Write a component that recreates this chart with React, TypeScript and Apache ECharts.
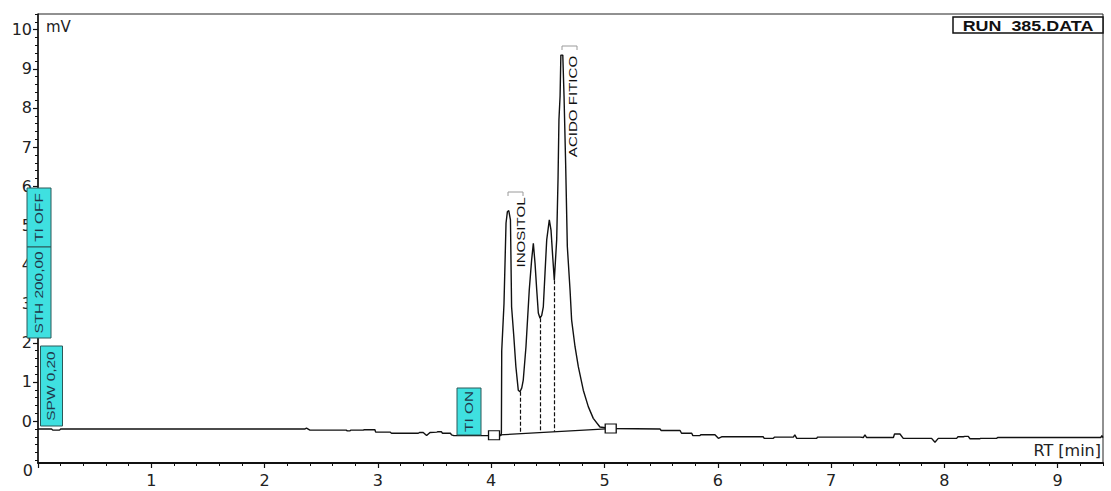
import { useEffect, useRef } from 'react';
import * as echarts from 'echarts';

// Detector trace, split in three stretches: [retention time (min), signal (mV)]
const leadBaseline: [number, number][] = [
  [0.0, -0.2], [0.12, -0.2], [0.13, -0.23], [0.19, -0.23], [0.2, -0.2],
  [2.357, -0.2], [2.37, -0.18], [2.4, -0.23], [2.72, -0.23], [2.73, -0.25],
  [2.754, -0.25], [2.76, -0.23], [2.87, -0.23], [2.88, -0.22], [2.974, -0.22],
  [2.98, -0.28], [3.107, -0.28], [3.12, -0.31], [3.357, -0.31], [3.37, -0.29],
  [3.4, -0.29], [3.43, -0.37], [3.46, -0.29], [3.52, -0.28], [3.53, -0.27],
  [3.56, -0.27], [3.57, -0.31], [3.64, -0.31], [3.65, -0.35], [3.67, -0.37],
  [4.085, -0.37],
];

const peakCluster: [number, number][] = [
  [4.09, -0.3], [4.093, 1.8], [4.113, 3.0], [4.131, 5.06], [4.143, 5.35],
  [4.155, 5.38], [4.17, 5.14], [4.18, 2.92], [4.2, 2.15], [4.218, 1.39],
  [4.239, 0.79], [4.254, 0.75], [4.27, 0.85], [4.283, 1.05], [4.307, 1.9],
  [4.336, 3.35], [4.357, 4.12], [4.372, 4.54], [4.387, 4.03], [4.402, 3.35],
  [4.416, 2.76], [4.431, 2.63], [4.446, 2.7], [4.46, 2.92], [4.475, 3.78],
  [4.49, 4.63], [4.513, 5.14], [4.528, 4.88], [4.543, 4.2], [4.557, 3.6],
  [4.578, 4.63], [4.59, 6.2], [4.598, 7.7], [4.608, 8.3], [4.615, 9.35],
  [4.632, 9.35], [4.643, 8.3], [4.657, 6.6], [4.672, 4.46], [4.696, 3.35],
  [4.71, 2.58], [4.74, 1.9], [4.769, 1.39], [4.813, 0.79], [4.857, 0.37],
  [4.901, 0.07], [4.96, -0.15], [5.055, -0.19],
];

const tailBaseline: [number, number][] = [
  [5.49, -0.2], [5.5, -0.24], [5.667, -0.24], [5.68, -0.31], [5.77, -0.31],
  [5.78, -0.37], [5.843, -0.37], [5.85, -0.35], [5.975, -0.35], [6.005, -0.44],
  [6.034, -0.4], [6.4, -0.4], [6.41, -0.44], [6.49, -0.44], [6.5, -0.41],
  [6.667, -0.41], [6.68, -0.35], [6.697, -0.44], [6.873, -0.44], [6.88, -0.41],
  [7.255, -0.41], [7.284, -0.42], [7.299, -0.35], [7.314, -0.42], [7.55, -0.42],
  [7.56, -0.33], [7.608, -0.33], [7.637, -0.44], [7.887, -0.44], [7.917, -0.54],
  [7.946, -0.44], [8.108, -0.44], [8.12, -0.4], [8.167, -0.4], [8.18, -0.39],
  [8.211, -0.39], [8.226, -0.45], [8.314, -0.45], [8.32, -0.44], [8.461, -0.44],
  [8.47, -0.42], [9.38, -0.42], [9.39, -0.37], [9.4, -0.42],
];

// Integration start / end points of the peak group
const integrationMarks: [number, number][] = [[4.025, -0.36], [5.055, -0.19]];

// Valleys where the peaks are split by perpendicular drops
const dropValleys: [number, number][] = [[4.254, 0.75], [4.431, 2.63], [4.557, 3.6]];

const xMajorTicks = [0, 1, 2, 3, 4, 5, 6, 7, 8, 9];
const xTickLabels = [1, 2, 3, 4, 5, 6, 7, 8, 9];
const yTickLabels = [0, 1, 2, 3, 4, 5, 6, 7, 8, 9, 10];

const X_MIN = 0;
const X_MAX = 9.4;
const Y_MIN = -1.07;
const Y_MAX = 10.4;

const axisFont = 'DejaVu Sans, sans-serif';
const noteFont = 'Liberation Sans, Arial, sans-serif';
const ink = '#111';
const TOP_Z = 100;

function steps(from: number, to: number, step: number): number[] {
  const out: number[] = [];
  const n = Math.round((to - from) / step);
  for (let i = 0; i <= n; i++) out.push(+(from + i * step).toFixed(4));
  return out;
}

function baselineAt(t: number): number {
  const [[t0, v0], [t1, v1]] = integrationMarks;
  return v0 + ((t - t0) * (v1 - v0)) / (t1 - t0);
}

function tagBox(x: number, y: number, w: number, h: number, label: string) {
  return [
    {
      type: 'rect',
      z: TOP_Z,
      shape: { x, y, width: w, height: h },
      style: { fill: '#3fe0e0', stroke: '#2c5858', lineWidth: 1 },
    },
    {
      type: 'text',
      z: TOP_Z + 1,
      x: x + w / 2,
      y: y + h / 2,
      rotation: Math.PI / 2,
      scaleX: 1.4,
      style: {
        text: label,
        fontSize: 11,
        fontFamily: noteFont,
        fill: '#20384a',
        align: 'center',
        verticalAlign: 'middle',
        textAlign: 'center',
        textVerticalAlign: 'middle',
      },
    },
  ];
}

function peakName(cx: number, cy: number, label: string) {
  return {
    type: 'text',
    z: TOP_Z,
    x: cx,
    y: cy,
    rotation: Math.PI / 2,
    scaleX: 1.37,
    style: {
      text: label,
      fontSize: 11,
      fontFamily: noteFont,
      fill: ink,
      align: 'center',
      verticalAlign: 'middle',
      textAlign: 'center',
      textVerticalAlign: 'middle',
    },
  };
}

function bracket(x0: number, x1: number, y: number) {
  return {
    type: 'polyline',
    z: TOP_Z,
    shape: { points: [[x0, y + 4], [x0, y], [x1, y], [x1, y + 4]] },
    style: { stroke: '#9a9a9a', lineWidth: 1, fill: 'none' },
  };
}

function plainText(x: number, y: number, text: string, size: number, align: string) {
  return {
    type: 'text',
    z: TOP_Z,
    x,
    y,
    style: {
      text,
      fontSize: size,
      fontFamily: axisFont,
      fill: '#222',
      align,
      verticalAlign: 'middle',
      textAlign: align,
      textVerticalAlign: 'middle',
    },
  };
}

export default function App() {
  const ref = useRef<HTMLDivElement>(null);

  useEffect(() => {
    if (!ref.current) return;
    const chart = echarts.init(ref.current, null, { renderer: 'svg' });
    const trace = [...leadBaseline, ...peakCluster, ...tailBaseline];

    chart.setOption({
      animation: false,
      backgroundColor: '#ffffff',
      grid: {
        left: 38,
        right: 8,
        top: 14,
        bottom: 28,
        show: true,
        borderColor: '#222',
        borderWidth: 1,
        backgroundColor: 'transparent',
      },
      xAxis: [
        {
          type: 'value',
          min: X_MIN,
          max: X_MAX,
          position: 'bottom',
          axisLine: { show: true, onZero: false, lineStyle: { color: ink, width: 2 } },
          axisTick: { show: true, length: 5, customValues: xMajorTicks, lineStyle: { color: ink, width: 1.2 } },
          axisLabel: {
            customValues: xTickLabels,
            fontFamily: axisFont,
            fontSize: 16,
            color: '#222',
            margin: 9,
          },
          splitLine: { show: false },
        },
        {
          type: 'value',
          min: X_MIN,
          max: X_MAX,
          position: 'bottom',
          axisLine: { show: false, onZero: false },
          axisTick: { show: true, length: 3, customValues: steps(0, 9.4, 0.2), lineStyle: { color: ink, width: 1 } },
          axisLabel: { show: false },
          splitLine: { show: false },
        },
      ],
      yAxis: [
        {
          type: 'value',
          min: Y_MIN,
          max: Y_MAX,
          position: 'left',
          axisLine: { show: true, onZero: false, lineStyle: { color: ink, width: 1.5 } },
          axisTick: { show: true, length: 5, customValues: yTickLabels, lineStyle: { color: ink, width: 1.2 } },
          axisLabel: {
            customValues: yTickLabels,
            fontFamily: axisFont,
            fontSize: 16,
            color: '#222',
            margin: 6,
          },
          splitLine: { show: false },
        },
        {
          type: 'value',
          min: Y_MIN,
          max: Y_MAX,
          position: 'left',
          axisLine: { show: false, onZero: false },
          axisTick: { show: true, length: 3, customValues: steps(-1, 10.4, 0.2), lineStyle: { color: ink, width: 1 } },
          axisLabel: { show: false },
          splitLine: { show: false },
        },
      ],
      series: [
        {
          name: 'signal',
          type: 'line',
          data: trace,
          showSymbol: false,
          symbol: 'none',
          lineStyle: { color: ink, width: 1.4 },
          z: 2,
        },
        {
          name: 'integration',
          type: 'line',
          data: integrationMarks,
          symbol: 'rect',
          symbolSize: [11, 9],
          showSymbol: true,
          itemStyle: { color: '#ffffff', borderColor: ink, borderWidth: 1.2 },
          lineStyle: { color: ink, width: 1.2 },
          z: 3,
          markLine: {
            silent: true,
            symbol: ['none', 'none'],
            label: { show: false },
            lineStyle: { type: [4, 2], color: ink, width: 1.2 },
            data: dropValleys.map(([t, v]) => [
              { coord: [t, v] },
              { coord: [t, baselineAt(t)] },
            ]),
          },
        },
      ],
      graphic: [
        ...tagBox(27, 188, 24, 59, 'TI OFF'),
        ...tagBox(27, 247, 24, 91, 'STH 200,00'),
        ...tagBox(40.5, 346, 22, 80, 'SPW 0,20'),
        ...tagBox(457, 388, 24, 47, 'TI ON'),
        bracket(508, 523, 192),
        peakName(521.5, 232.5, 'INOSITOL'),
        bracket(562, 577, 46),
        peakName(573.3, 106.5, 'ACIDO FITICO'),
        {
          type: 'rect',
          z: TOP_Z,
          shape: { x: 953, y: 17, width: 150, height: 16 },
          style: { fill: '#ffffff', stroke: ink, lineWidth: 1.5 },
        },
        {
          type: 'text',
          z: TOP_Z + 1,
          x: 1028,
          y: 25.5,
          scaleX: 1.28,
          style: {
            text: 'RUN  385.DATA',
            fontSize: 14,
            fontWeight: 'bold',
            fontFamily: noteFont,
            fill: ink,
            align: 'center',
            verticalAlign: 'middle',
            textAlign: 'center',
            textVerticalAlign: 'middle',
          },
        },
        plainText(46, 27, 'mV', 15, 'left'),
        plainText(1101, 450, 'RT [min]', 16, 'right'),
        plainText(33, 470, '0', 16, 'right'),
      ],
    });

    return () => chart.dispose();
  }, []);

  return (
    <div
      ref={ref}
      style={{ position: 'absolute', left: 0, top: 0, width: 1111, height: 491, background: '#fff' }}
    />
  );
}
